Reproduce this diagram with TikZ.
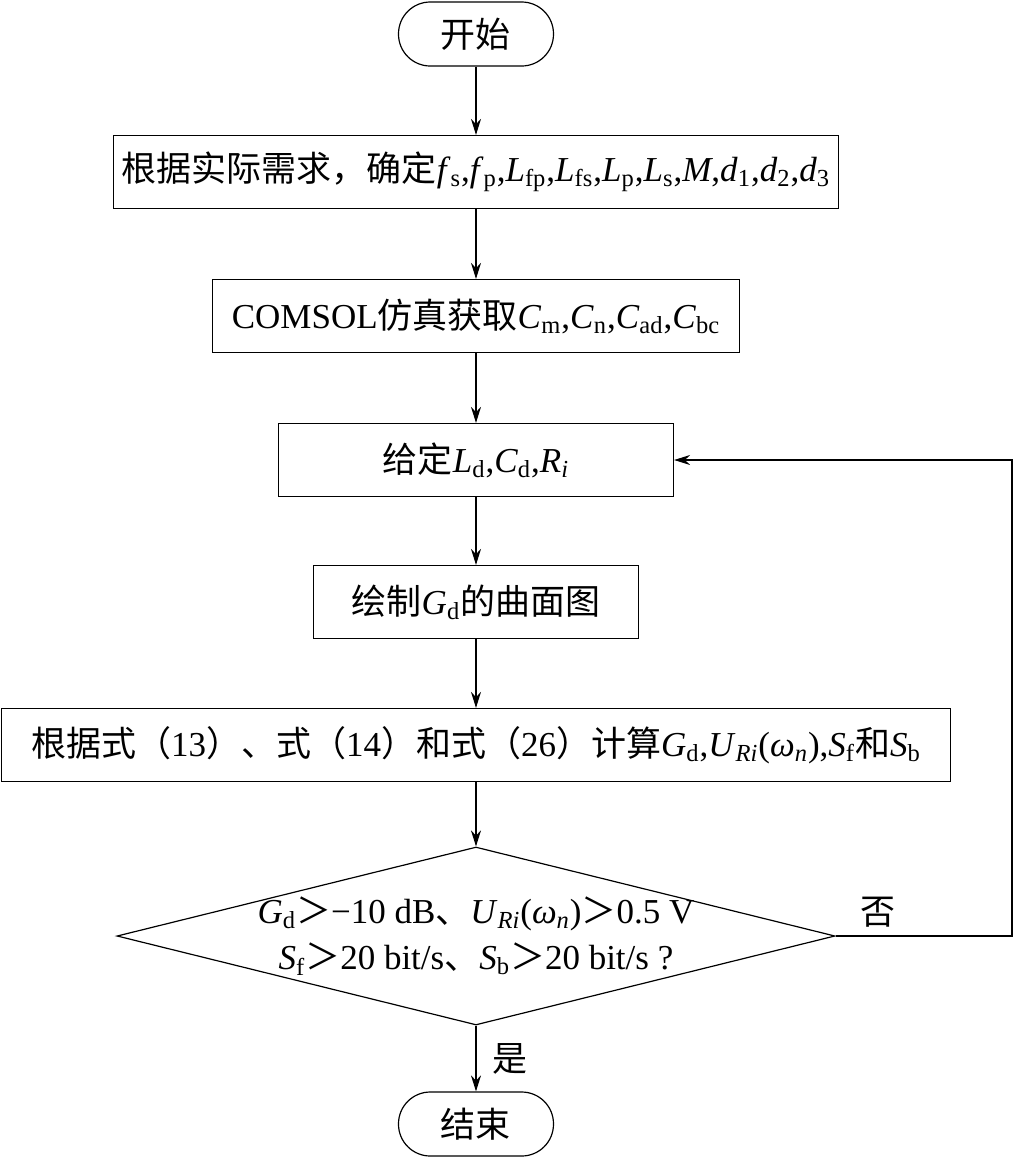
\documentclass[tikz,border=0pt]{standalone}
\usepackage{fontspec}
\setmainfont{Liberation Serif}
\newfontfamily\zh{Noto Sans CJK SC}
\usetikzlibrary{positioning,arrows.meta,shapes.geometric}
\newcommand\vsub[2]{\textit{#1}\textsubscript{#2}}

\begin{document}
\begin{tikzpicture}[
    >={Stealth[width=5pt,length=8pt]},
    line width=0.6pt,
    every node/.style={
        draw=black,
        inner sep=0pt
        },
    term/.style={minimum width=77.5pt, minimum height=32pt, rounded corners=15.9pt},
    proc/.style={minimum height=36.5pt},
    dec/.style={diamond, aspect=4.03, minimum width=359pt, minimum height=89pt},
    note/.style={draw=none},
    font=\fontsize{17.5}{23}\selectfont
    ]
    \useasboundingbox (-238pt,17pt) rectangle (269pt,-562pt);
    \begin{scope}[on grid]
    \node[term] (start) {\zh 开始};
    \node[proc, minimum width=362.5pt] (need) [below = 69pt of start]
        {{\zh 根据实际需求，确定}\vsub{f}{s},\vsub{f}{p},\vsub{L}{fp},\vsub{L}{fs},\vsub{L}{p},\vsub{L}{s},\textit{M},\vsub{d}{1},\vsub{d}{2},\vsub{d}{3}};
    \node[proc, minimum width=263.5pt] (sim) [below = 72pt of need]
        {COMSOL{\zh 仿真获取}\vsub{C}{m},\vsub{C}{n},\vsub{C}{ad},\vsub{C}{bc}};
    \node[proc, minimum width=197.5pt] (given) [below = 72pt of sim]
        {{\zh 给定}\vsub{L}{d},\vsub{C}{d},\textit{R}\textsubscript{\textit{i}}};
    \node[proc, minimum width=162.5pt] (plot) [below = 71pt of given]
        {{\zh 绘制}\vsub{G}{d}{\zh 的曲面图}};
    \node[proc, minimum width=474.5pt] (calc) [below = 71.5pt of plot]
        {{\zh 根据式（}13{\zh ）、式（}14{\zh ）和式（}26{\zh ）计算}\vsub{G}{d},\textit{U}\textsubscript{\textit{Ri}}(\textit{ω}\textsubscript{\textit{n}}),\vsub{S}{f}{\zh 和}\vsub{S}{b}};
    \node[dec] (check) [below = 95.5pt of calc] {};
    \node[term] (finish) [below = 94pt of check] {\zh 结束};
    \end{scope}
    \node[note, align=center] (checktext) at (check)
        {\vsub{G}{d}{\zh ＞}−10 dB{\zh 、}\textit{U}\textsubscript{\textit{Ri}}(\textit{ω}\textsubscript{\textit{n}}){\zh ＞}0.5 V\\
         \vsub{S}{f}{\zh ＞}20 bit/s{\zh 、}\vsub{S}{b}{\zh ＞}20 bit/s ?};
    \coordinate (back) at (268pt,0);

    \path[->]
    (start) edge (need)
    (need) edge (sim)
    (sim) edge (given)
    (given) edge (plot)
    (plot) edge (calc)
    (calc) edge (check)
    (check) edge node[note, right, xshift=8pt] {\zh 是} (finish)
    ;
    \draw[->] (check.east) -- (check.east -| back) |- (given.east);
    \node[note, above right = 4pt and 12pt of check.east] (no) {\zh 否};
\end{tikzpicture}
\end{document}
